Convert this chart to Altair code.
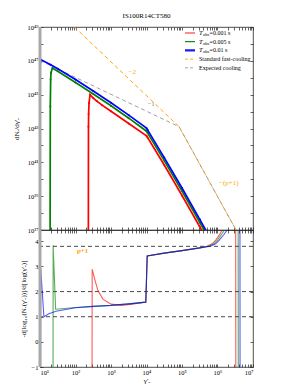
import altair as alt
import numpy as np
import pandas as pd

FONT = "Liberation Serif"
RED, GREEN, BLUE = "#ff0000", "#008000", "#0000ff"
ORANGE, GRAY = "#ffa500", "#a0a0a0"

# ---------------- top panel: log10(gamma'_e) and log10(dN_e/dgamma'_e)
red_lx = [2.36, 2.365, 2.37, 2.38, 2.41, 2.5, 2.6, 2.75, 3.0, 3.5, 4.0, 4.03, 4.5, 5.0, 5.5, 5.8]
red_ly = [30.0, 43.1, 43.85, 44.5, 45.0, 44.8, 44.62, 44.38, 44.02, 43.30, 42.57, 42.47, 40.84, 39.04, 37.19, 36.06]
green_lx = [1.28, 1.29, 1.30, 1.31, 1.35, 1.5, 2.0, 2.5, 3.0, 3.5, 4.0, 4.03, 4.5, 5.0, 5.5, 5.8]
green_ly = [30.0, 44.3, 45.9, 46.3, 46.57, 46.38, 45.72, 45.04, 44.34, 43.61, 42.84, 42.74, 41.1, 39.3, 37.45, 36.32]
blue_lx = [1.0, 1.01, 1.02, 1.3, 1.5, 2.0, 2.5, 3.0, 3.5, 4.0, 4.03, 4.5, 5.0, 5.5, 5.8]
blue_ly = [46.5, 46.9, 47.08, 46.77, 46.53, 45.9, 45.22, 44.52, 43.79, 43.02, 42.92, 41.28, 39.48, 37.63, 36.5]
fast_lx = [1.97, 4.92, 6.6]
fast_ly = [49.0, 43.1, 36.7]
exp_lx = [1.0, 4.92, 6.6]
exp_ly = [47.02, 43.1, 36.7]

ann_lx = [3.6, 4.13, 6.32]
ann_ly = [46.35, 44.45, 39.77]
ann_txt = ["\u22122", "\u22121", "\u2212(p+1)"]
ann_col = [ORANGE, "#888888", ORANGE]

# ---------------- bottom panel: log10(gamma'_e) and local slope
red_s_lx = [2.46, 2.47, 2.55, 2.63, 2.77, 3.0, 3.3, 3.6, 3.98, 4.02, 4.5, 5.0, 5.5, 5.7, 5.85, 5.95, 6.05, 6.15, 6.3, 6.51, 6.52, 6.7]
red_s_y = [-9, 2.89, 2.45, 2.05, 1.7, 1.5, 1.45, 1.5, 1.58, 3.42, 3.53, 3.63, 3.74, 3.8, 3.9, 4.05, 4.25, 4.5, 5.2, 9, -9, -9]
green_s_lx = [1.365, 1.37, 1.44, 1.7, 2.0, 2.5, 3.0, 3.5, 3.98, 4.02, 4.5, 5.0, 5.5, 5.75, 5.9, 6.0, 6.1, 6.22, 6.4, 6.58, 6.59, 6.7]
green_s_y = [-9, 3.84, 1.3, 1.33, 1.37, 1.41, 1.45, 1.51, 1.58, 3.42, 3.53, 3.63, 3.74, 3.8, 3.9, 4.05, 4.25, 4.5, 5.2, 9, -9, -9]
blue_s_lx = [1.01, 1.02, 1.11, 1.25, 1.45, 2.0, 2.5, 3.0, 3.5, 3.98, 4.02, 4.5, 5.0, 5.5, 5.8, 5.95, 6.05, 6.17, 6.3, 6.45, 6.63, 6.64, 6.7]
blue_s_y = [-9, 2.93, 1.0, 1.12, 1.22, 1.36, 1.41, 1.45, 1.51, 1.58, 3.42, 3.53, 3.63, 3.74, 3.8, 3.9, 4.05, 4.25, 4.5, 5.2, 9, -9, -9]
hlines = [1.0, 2.0, 3.8]
p1_lx, p1_y, p1_txt = [2.2], [3.6], ["p+1"]

# legend
leg_names = ["0.001 s", "0.005 s", "0.01 s", "Standard fast-cooling", "Expected cooling"]
leg_cols = [RED, GREEN, BLUE, ORANGE, GRAY]

sup = str.maketrans("0123456789", "\u2070\u00b9\u00b2\u00b3\u2074\u2075\u2076\u2077\u2078\u2079")


def pw(k):
    return "10" + str(k).translate(sup)


x_major = [10.0 ** k for k in range(1, 8)]
x_ticks = sorted(x_major + [m * 10.0 ** k for k in range(1, 7) for m in range(2, 10)])
x_lab = " : ".join(f"datum.value == {v!r} ? '{pw(k)}'" for k, v in zip(range(1, 8), x_major)) + " : ''"
y_dec = [10.0 ** k for k in range(37, 50)]
y_lab = " : ".join(f"datum.value == {v!r} ? '{pw(k)}'" for k, v in zip(range(37, 50), y_dec) if k % 2 == 1) + " : ''"

W, H1, H2 = 213, 203, 137
xs = alt.Scale(type="log", domain=[10, 1e7])
ys_top = alt.Scale(type="log", domain=[1e37, 1e49])
ys_bot = alt.Scale(domain=[-1, 4.45])


def tdf(lx, ly, name):
    return pd.DataFrame({"g": np.power(10.0, lx), "v": np.power(10.0, ly), "s": name})


def bdf(lx, y, name):
    return pd.DataFrame({"g": np.power(10.0, lx), "v": y, "s": name})


def tick_axis(orient, values):
    return alt.Axis(orient=orient, values=values, labels=False, title=None, offset=-3, tickSize=3,
                    minExtent=0, maxExtent=0)


ax_x_top = tick_axis("bottom", x_ticks)
ax_y_top = alt.Axis(values=y_dec, labelExpr=y_lab, title="dN\u2091/d\u03b3\u2032\u2091", offset=-3, tickSize=3,
                    minExtent=18, maxExtent=18, titleX=-23.5, titleY=H1 / 2, labelPadding=2)

XT = alt.X("g:Q", scale=xs, axis=ax_x_top)
YT = alt.Y("v:Q", scale=ys_top, axis=ax_y_top)

top_layers = []
for lx, ly, col, nm in [(fast_lx, fast_ly, ORANGE, "fast"), (exp_lx, exp_ly, GRAY, "exp")]:
    top_layers.append(alt.Chart(tdf(lx, ly, nm)).mark_line(color=col, strokeDash=[4, 3], strokeWidth=1, clip=True).encode(x=XT, y=YT))
for lx, ly, col, nm in [(red_lx, red_ly, RED, "r"), (green_lx, green_ly, GREEN, "g"), (blue_lx, blue_ly, BLUE, "b")]:
    d = tdf(lx, ly, nm)
    top_layers.append(alt.Chart(d).mark_line(color=col, strokeWidth=1.7, clip=True).encode(x=XT, y=YT))
    top_layers.append(alt.Chart(d).mark_point(color=col, filled=True, size=4, opacity=1, clip=True).encode(x=XT, y=YT))

ann = pd.DataFrame({"g": np.power(10.0, ann_lx), "v": np.power(10.0, ann_ly), "t": ann_txt, "c": ann_col})
top_layers.append(alt.Chart(ann).mark_text(font=FONT, fontSize=7).encode(
    x=XT, y=YT, text="t:N", color=alt.Color("c:N", scale=None)))

# legend drawn in pixel space of the top panel
leg_y = [6, 14.7, 23.4, 32.1, 40.8]
leg_w = [1.2, 1.2, 2.2, 1, 1]
for i, (nm, col) in enumerate(zip(leg_names, leg_cols)):
    dash = [3, 2] if i >= 3 else [1, 0]
    top_layers.append(alt.Chart(pd.DataFrame({"a": [0]})).mark_rule(
        color=col, strokeWidth=leg_w[i], strokeDash=dash, opacity=0.9).encode(
        x=alt.value(145), x2=alt.value(155), y=alt.value(leg_y[i])))
    if i < 3:
        top_layers.append(alt.Chart(pd.DataFrame({"a": [0]})).mark_text(
            text="T", font=FONT, fontSize=6.5, fontStyle="italic", align="left", baseline="middle").encode(
            x=alt.value(159), y=alt.value(leg_y[i])))
        top_layers.append(alt.Chart(pd.DataFrame({"a": [0]})).mark_text(
            text="obs", font=FONT, fontSize=4.5, align="left", baseline="middle").encode(
            x=alt.value(163), y=alt.value(leg_y[i] + 1.8)))
        top_layers.append(alt.Chart(pd.DataFrame({"a": [0]})).mark_text(
            text="=" + nm, font=FONT, fontSize=6, align="left", baseline="middle").encode(
            x=alt.value(169.5), y=alt.value(leg_y[i])))
    else:
        top_layers.append(alt.Chart(pd.DataFrame({"a": [0]})).mark_text(
            text=nm, font=FONT, fontSize=6, align="left", baseline="middle").encode(
            x=alt.value(159), y=alt.value(leg_y[i])))

top_main = alt.layer(*top_layers)
spine_top = alt.Chart(pd.DataFrame({"g": [10.0, 10.0], "v": [1e37, 1e49]})).mark_line(
    color="#a8a8a8", strokeWidth=3).encode(
    x=alt.X("g:Q", scale=xs, axis=tick_axis("top", x_ticks)),
    y=alt.Y("v:Q", scale=ys_top, axis=tick_axis("right", y_dec)))
top = alt.layer(top_main, spine_top).resolve_axis(x="independent", y="independent").properties(
    width=W, height=H1,
    title=alt.TitleParams("IS100R14CT580", font=FONT, fontSize=7, fontWeight="normal", anchor="middle", offset=2))

# ---------------- bottom
ax_x_bot = alt.Axis(values=x_ticks, labelExpr=x_lab, title="\u03b3\u2032\u2091", offset=-3, tickSize=3,
                    labelPadding=2, titlePadding=1)
ax_y_bot = alt.Axis(values=[-1, 0, 1, 2, 3, 4], title="-d[log\u2081\u2080(N\u2091(\u03b3\u2032\u2091))]/d[log(\u03b3\u2032\u2091)]",
                    offset=-3, tickSize=3, minExtent=10, maxExtent=10, titleX=-16.5, titleY=H2 / 2, labelPadding=2)
XB = alt.X("g:Q", scale=xs, axis=ax_x_bot)
YB = alt.Y("v:Q", scale=ys_bot, axis=ax_y_bot)

bot_layers = [alt.Chart(pd.DataFrame({"v": hlines})).mark_rule(color="#333333", strokeDash=[4, 3], strokeWidth=0.9).encode(y=YB)]
for lx, y, col, nm in [(red_s_lx, red_s_y, RED, "r"), (green_s_lx, green_s_y, GREEN, "g"), (blue_s_lx, blue_s_y, BLUE, "b")]:
    bot_layers.append(alt.Chart(bdf(lx, y, nm)).mark_line(color=col, strokeWidth=1.1, opacity=0.65, clip=True).encode(x=XB, y=YB))
p1 = pd.DataFrame({"g": np.power(10.0, p1_lx), "v": p1_y, "t": p1_txt})
bot_layers.append(alt.Chart(p1).mark_text(font=FONT, fontSize=7, fontWeight="bold", color=ORANGE).encode(x=XB, y=YB, text="t:N"))
bot_main = alt.layer(*bot_layers)
spine_bot = alt.Chart(pd.DataFrame({"g": [10.0, 10.0], "v": [-1.0, 4.45]})).mark_line(
    color="#a8a8a8", strokeWidth=3).encode(
    x=alt.X("g:Q", scale=xs, axis=tick_axis("top", x_ticks)),
    y=alt.Y("v:Q", scale=ys_bot, axis=tick_axis("right", [-1, 0, 1, 2, 3, 4])))
bottom = alt.layer(bot_main, spine_bot).resolve_axis(x="independent", y="independent").properties(width=W, height=H2)

chart = alt.vconcat(top, bottom, spacing=0, bounds="flush").properties(
    padding={"left": 4, "top": 3, "right": 5, "bottom": 3}
).configure_concat(spacing=0).configure_axis(
    labelFont=FONT, titleFont=FONT, labelFontSize=6.5, titleFontSize=7, titleFontWeight="normal",
    tickColor="#222222", tickWidth=0.7, domain=False, grid=False, labelColor="black", titleColor="black"
).configure_view(stroke="#222222", strokeWidth=0.8)

chart.save("out.html", embed_options={"renderer": "svg", "actions": False})
